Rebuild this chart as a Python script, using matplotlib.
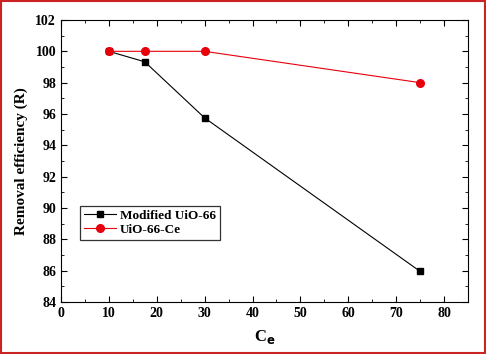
import matplotlib
matplotlib.use("Agg")
import matplotlib.pyplot as plt
from matplotlib.patches import Rectangle
from matplotlib.ticker import MultipleLocator

plt.rcParams['font.family'] = ['Liberation Serif', 'DejaVu Serif']
plt.rcParams['font.weight'] = 'bold'

# data
ce = [10, 17.5, 30, 75]
modified = [100, 99.33, 95.75, 85.95]
uio_ce = [100, 100, 100, 98]

fig = plt.figure(figsize=(4.86, 3.54), dpi=100)
ax = fig.add_axes([0.1255, 0.147, 0.8375, 0.7965])

ax.plot(ce, modified, color='black', lw=0.8, marker='s', ms=5, label='Modified UiO-66')
ax.plot(ce, uio_ce, color='#e8000b', lw=0.8, marker='o', ms=5.5, label='UiO-66-Ce')

ax.set_xlim(0, 85)
ax.set_ylim(84, 102)
ax.xaxis.set_major_locator(MultipleLocator(10))
ax.xaxis.set_minor_locator(MultipleLocator(5))
ax.yaxis.set_major_locator(MultipleLocator(2))
ax.yaxis.set_minor_locator(MultipleLocator(1))
ax.tick_params(which='both', direction='in', top=True, right=True, labelsize=10)
ax.tick_params(which='major', length=4)
ax.tick_params(which='minor', length=2)
for lab in ax.get_xticklabels() + ax.get_yticklabels():
    lab.set_fontweight('bold')

ax.set_xlabel(r'C$_\mathbf{e}$', fontsize=12, fontweight='bold', labelpad=6)
ax.set_ylabel('Removal efficiency (R)', fontsize=11, fontweight='bold', labelpad=5)

leg = ax.legend(loc='lower left', bbox_to_anchor=(0.047, 0.22), borderaxespad=0,
                fontsize=9.5, frameon=True, fancybox=False, edgecolor='black',
                borderpad=0.3, handlelength=2.4, handletextpad=0.3, labelspacing=0.15)
leg.get_frame().set_linewidth(0.9)

fig.patches.append(Rectangle((0.002, 0.003), 0.996, 0.994, transform=fig.transFigure,
                             fill=False, edgecolor='#cc2222', lw=1.5))

fig.savefig('out.png', dpi=100)
